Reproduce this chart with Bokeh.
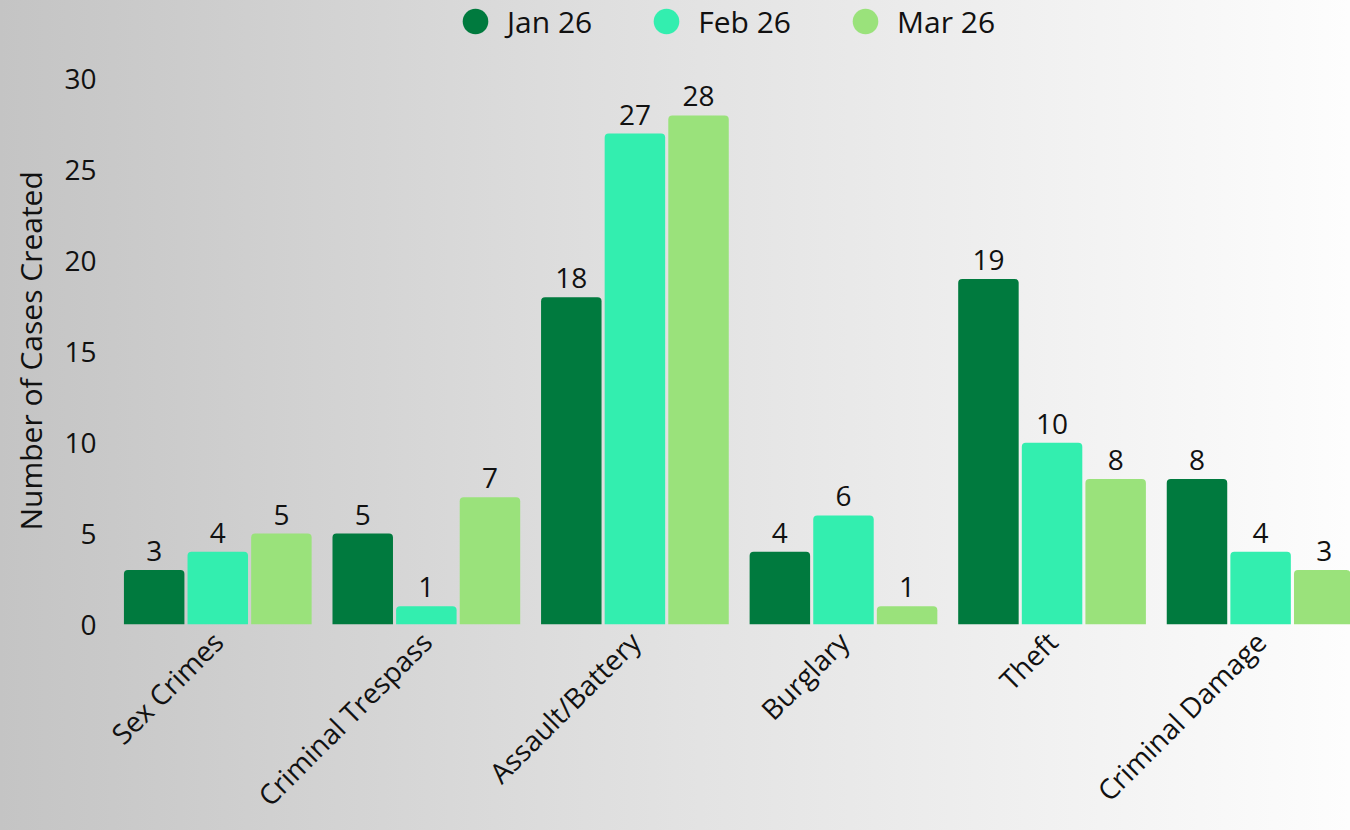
import numpy as np
from bokeh.plotting import figure
from bokeh.models import Range1d, FixedTicker, Legend, LegendItem, ColumnDataSource, Title
from bokeh.core.properties import value
from bokeh.embed import file_html
from bokeh.resources import INLINE

categories = ["Sex Crimes", "Criminal Trespass", "Assault/Battery", "Burglary", "Theft", "Criminal Damage"]
series_names = ["Jan 26", "Feb 26", "Mar 26"]
jan = [3, 5, 18, 4, 19, 8]
feb = [4, 1, 27, 6, 10, 4]
mar = [5, 7, 28, 1, 8, 3]
y_ticks = [0, 5, 10, 15, 20, 25, 30]

colors = ["#007A3E", "#33EEAF", "#9AE27B"]
FONT = "Open Sans"

p = figure(width=1350, height=830, output_backend="svg", toolbar_location=None,
           x_range=Range1d(-0.5, 5.431), y_range=Range1d(0, 34.32),
           min_border_left=113, min_border_right=0, min_border_top=0, min_border_bottom=206)
p.background_fill_color = None
p.border_fill_color = None
p.outline_line_color = None
p.styles = {"background": "linear-gradient(90deg, #c4c4c4 0%, #e2e2e2 50%, #fdfdfd 100%)"}
p.xgrid.visible = False
p.ygrid.visible = False

idx = np.arange(len(categories))
offsets = [-0.305, 0.0, 0.305]
all_series = [jan, feb, mar]
items = []
for name, vals, off, col in zip(series_names, all_series, offsets, colors):
    src = ColumnDataSource(dict(x=idx + off, top=vals, lab=[str(v) for v in vals]))
    p.vbar(x="x", top="top", bottom=0, width=0.29, source=src, fill_color=col,
           line_color=None, border_radius=(4, 4, 0, 0))
    p.text(x="x", y="top", text="lab", source=src, text_align="center", text_baseline="bottom",
           y_offset=-9, text_font=value(FONT), text_font_size="28px", text_color="#111111")
    # zero-size markers, used only to give the legend its round swatches
    r = p.scatter(x="x", y="top", source=src, marker="circle", fill_color=col,
                  line_color=None, size=0)
    items.append(LegendItem(label=name, renderers=[r]))

legend = Legend(items=items, orientation="horizontal", location=(330, 571),
                glyph_width=64, glyph_height=64, label_standoff=0, spacing=42, padding=0, margin=0,
                label_text_font=FONT, label_text_font_size="30px", label_text_color="#111111",
                background_fill_alpha=0, border_line_color=None)
p.add_layout(legend, "center")

# axes
p.xaxis.ticker = FixedTicker(ticks=list(idx))
p.xaxis.major_label_overrides = {int(i): c for i, c in zip(idx, categories)}
p.xaxis.major_label_orientation = np.pi / 4
p.xaxis.major_label_standoff = 6
p.yaxis.ticker = FixedTicker(ticks=y_ticks)
p.yaxis.major_label_standoff = 11
for ax in (p.xaxis, p.yaxis):
    ax.axis_line_color = None
    ax.major_tick_line_color = None
    ax.minor_tick_line_color = None
    ax.major_label_text_font = FONT
    ax.major_label_text_font_size = "28px"
    ax.major_label_text_color = "#111111"

ytitle = Title(text="Number of Cases Created", align="left", vertical_align="top",
               offset=94, standoff=18, text_font=FONT, text_font_size="30px",
               text_font_style="normal", text_color="#111111")
p.add_layout(ytitle, "left")

open("out.html", "w").write(file_html(p, INLINE))
